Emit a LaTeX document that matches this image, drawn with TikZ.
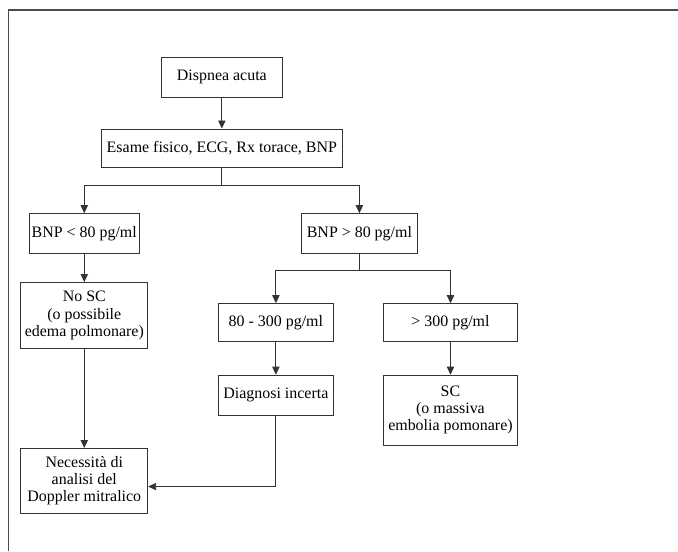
\documentclass[tikz,border=0pt]{standalone}
\usepackage{fontspec}
\setmainfont{Liberation Serif}
\usetikzlibrary{shapes, positioning, arrows.meta}

\tikzset{
  stepbox/.style={draw=black!80, line width=0.6pt, align=center, inner sep=2pt,
    font=\fontsize{12}{13}\selectfont},
  link/.style={draw=black!80, line width=0.6pt},
}

\begin{document}
\begin{tikzpicture}[>={Triangle[length=6pt, width=5.5pt]}]
          % Page area with the same proportions as the figure
          \useasboundingbox (-5.87,2.04) rectangle (12.07,-12.54);

          % Top and left edge of the frame (the rest is cut off)
          \coordinate (corner) at (-5.64,1.77);
          \draw [black!70, line width=1.2pt] (corner -| 12.07,0) -- (corner) -- (corner |- 0,-12.54);

          % First two steps, one under the other
          \node (dispnea) [stepbox, minimum width=3.2cm, minimum height=1.06cm] at (0,0) {Dispnea acuta};
          \node (esame) [stepbox, minimum width=6.38cm, minimum height=1.03cm, below=0.82cm of dispnea] {Esame fisico, ECG, Rx torace, BNP};

          % BNP split into the two branches
          \node (bnp_low) [stepbox, minimum width=2.91cm, minimum height=1.06cm, below=1.19cm of esame.south, xshift=-3.64cm] {BNP < 80 pg/ml};
          \node (bnp_high) [stepbox, minimum width=3.07cm, minimum height=1.06cm, below=1.19cm of esame.south, xshift=3.64cm] {BNP > 80 pg/ml};

          % Left branch
          \node (no_sc) [stepbox, minimum width=3.36cm, minimum height=1.75cm, below=0.74cm of bnp_low] {No SC\\(o possibile\\edema polmonare)};
          \node (doppler) [stepbox, minimum width=3.36cm, minimum height=1.72cm, below=2.62cm of no_sc] {Necessità di\\analisi del\\Doppler mitralico};

          % Right branch, split again by value
          \node (mid_range) [stepbox, minimum width=3.04cm, minimum height=1.0cm, below=1.30cm of bnp_high.south, xshift=-2.21cm] {80 - 300 pg/ml};
          \node (high_range) [stepbox, minimum width=3.55cm, minimum height=1.0cm, below=1.30cm of bnp_high.south, xshift=2.41cm] {> 300 pg/ml};
          \node (incerta) [stepbox, minimum width=3.04cm, minimum height=1.06cm, below=0.87cm of mid_range] {Diagnosi incerta};
          \node (sc) [stepbox, minimum width=3.55cm, minimum height=1.85cm, below=0.87cm of high_range] {SC\\(o massiva\\embolia pomonare)};

          % Branch points of the connectors
          \coordinate (split_esame) at ([yshift=-0.45cm]esame.south);
          \coordinate (split_bnp) at ([yshift=-0.42cm]bnp_high.south);

          % Connectors
          \draw [link, ->] (dispnea) -- (esame);
          \draw [link] (esame) -- (split_esame);
          \draw [link, ->] (split_esame) -| (bnp_low);
          \draw [link, ->] (split_esame) -| (bnp_high);
          \draw [link, ->] (bnp_low) -- (no_sc);
          \draw [link, ->] (no_sc) -- (doppler);
          \draw [link] (bnp_high) -- (split_bnp);
          \draw [link, ->] (split_bnp) -| (mid_range);
          \draw [link, ->] (split_bnp) -| (high_range);
          \draw [link, ->] (mid_range) -- (incerta);
          \draw [link, ->] (high_range) -- (sc);
          \draw [link, ->] (incerta.south) |- ([yshift=-0.15cm]doppler.east);

        \end{tikzpicture}
\end{document}
